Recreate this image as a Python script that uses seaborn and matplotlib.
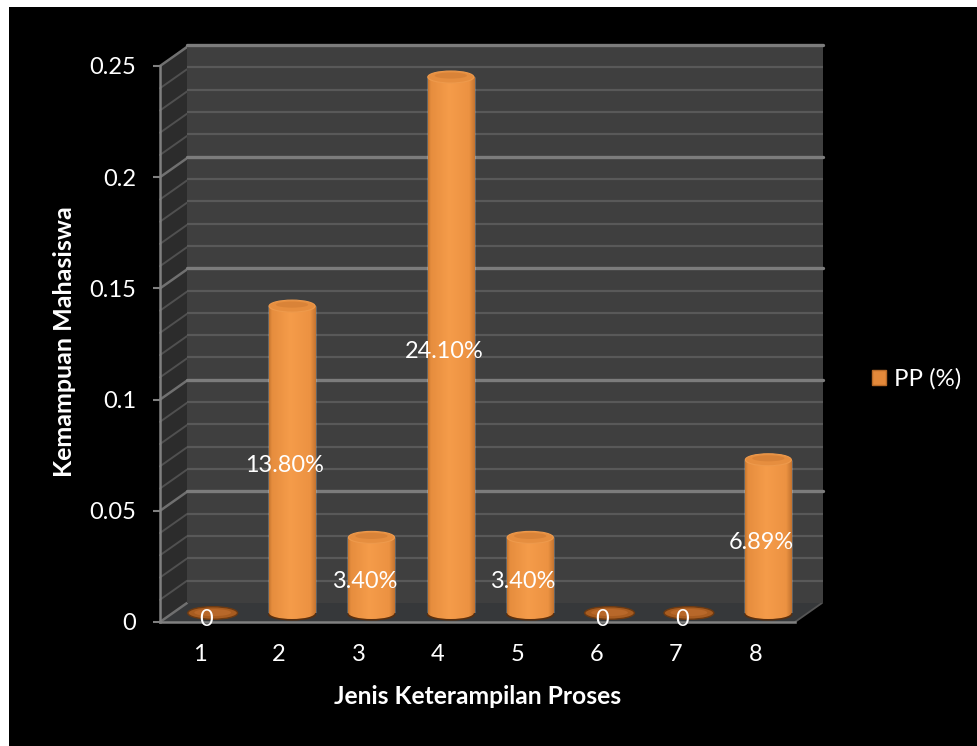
import numpy as np
import pandas as pd
import matplotlib
matplotlib.use("Agg")
import matplotlib.pyplot as plt
from matplotlib.patches import Polygon, Ellipse, Rectangle, Patch
from matplotlib.lines import Line2D
from matplotlib.colors import LinearSegmentedColormap
import seaborn as sns

categories = ["1", "2", "3", "4", "5", "6", "7", "8"]
values = [0, 0.138, 0.034, 0.241, 0.034, 0, 0, 0.0689]
value_labels = ["0", "13.80%", "3.40%", "24.10%", "3.40%", "0", "0", "6.89%"]
y_ticks = [0, 0.05, 0.1, 0.15, 0.2, 0.25]
y_tick_labels = ["0", "0.05", "0.1", "0.15", "0.2", "0.25"]
minor_ticks = [0.01, 0.02, 0.03, 0.04, 0.06, 0.07, 0.08, 0.09, 0.11, 0.12, 0.13, 0.14,
               0.16, 0.17, 0.18, 0.19, 0.21, 0.22, 0.23, 0.24]
series_name = "PP (%)"
x_title = "Jenis Keterampilan Proses"
y_title = "Kemampuan Mahasiswa"

W, H = 978, 746
sns.set_theme(style="dark")
plt.rcParams["font.family"] = ["Lato", "DejaVu Sans"]

fig = plt.figure(figsize=(W / 100, H / 100), dpi=100, facecolor="white")


def P(x, y):
    return (x / W, 1 - y / H)


def axes_px(x0, y0, x1, y1, **kw):
    return fig.add_axes([x0 / W, 1 - y1 / H, (x1 - x0) / W, (y1 - y0) / H], **kw)


fig.add_artist(Rectangle(P(9, H), (W - 9) / W, (H - 7) / H, transform=fig.transFigure,
                         fc="black", ec="none", zorder=-5))

FX0, FX1, FY0, FY1 = 160, 795, 66, 622   # front plane
DX, DY = 27, -19                          # depth offset

# Back wall
ax_back = axes_px(FX0 + DX, FY0 + DY - 2, FX1 + DX + 1, FY1 + DY, zorder=1)
ax_back.set_facecolor("#3f3f3f")
ax_back.set_xlim(0, 1)
ax_back.set_ylim(0, 0.25)
ax_back.set_xticks([])
ax_back.set_yticks([])
for s in ax_back.spines.values():
    s.set_visible(False)
for v in minor_ticks:
    ax_back.axhline(v, color="#595959", lw=1.6)
for v in y_ticks[1:]:
    ax_back.axhline(v, color="#7c7c7c", lw=2.4, clip_on=False)

# Side wall and floor
fig.add_artist(Polygon([P(FX0, FY0), P(FX0 + DX, FY0 + DY - 2), P(FX0 + DX, FY1 + DY), P(FX0, FY1)],
                       transform=fig.transFigure, fc="#2c2c2c", ec="none", zorder=0.5))
fig.add_artist(Polygon([P(FX0, FY1), P(FX0 + DX, FY1 + DY), P(FX1 + DX, FY1 + DY), P(FX1, FY1)],
                       transform=fig.transFigure, fc="#36383a", ec="none", zorder=0.5))
for v in y_ticks + minor_ticks:
    yy = FY1 - v / 0.25 * (FY1 - FY0)
    major = v in y_ticks
    fig.add_artist(Line2D([P(FX0, yy)[0], P(FX0 + DX, yy + DY)[0]],
                          [P(FX0, yy)[1], P(FX0 + DX, yy + DY)[1]],
                          transform=fig.transFigure, color="#707070" if major else "#505050",
                          lw=1.8 if major else 1.4, zorder=0.6))
fig.add_artist(Line2D([P(FX1, FY1)[0], P(FX1 + DX, FY1 + DY)[0]],
                      [P(FX1, FY1)[1], P(FX1 + DX, FY1 + DY)[1]],
                      transform=fig.transFigure, color="#555555", lw=1.3, zorder=0.6))

# Front plane: axes lines, ticks, labels
ax = axes_px(FX0, FY0, FX1, FY1, zorder=2)
ax.patch.set_alpha(0)
ax.set_xlim(-0.5, 7.5)
ax.set_ylim(0, 0.25)
ax.grid(False)
ax.set_xticks(range(len(categories)))
ax.set_xticklabels(categories)
ax.set_yticks(y_ticks)
ax.set_yticklabels(y_tick_labels)
ax.tick_params(axis="x", length=0, pad=16, labelsize=17, colors="white")
ax.tick_params(axis="y", length=5, width=1.5, left=True, color="#808080", pad=12, labelsize=17, labelcolor="white")
for side in ("top", "right"):
    ax.spines[side].set_visible(False)
for side in ("left", "bottom"):
    ax.spines[side].set_color("#808080")
    ax.spines[side].set_linewidth(1.8)
ax.set_xlabel(x_title, color="white", fontsize=17.7, fontweight="bold", va="center")
ax.set_ylabel(y_title, color="white", fontsize=18, fontweight="bold", va="center")
ax.xaxis.set_label_coords(0.5, -(697 - FY1) / (FY1 - FY0))
ax.yaxis.set_label_coords(-(FX0 - 65) / (FX1 - FX0), 0.505)

# Bars, mid-depth
ax_bar = axes_px(FX0 + 13, FY0 - 9, FX1 + 13, FY1 - 9, zorder=3)
df = pd.DataFrame({"Jenis": categories, "PP": values})
sns.barplot(data=df, x="Jenis", y="PP", color="#F0953F", width=0.58, saturation=1, ax=ax_bar)
ax_bar.set_xlim(-0.5, 7.5)
ax_bar.set_ylim(0, 0.25)
ax_bar.axis("off")

cmap = LinearSegmentedColormap.from_list(
    "cyl", [(0, "#C8782F"), (0.06, "#E68D3E"), (0.45, "#F59C4A"), (0.88, "#EC9242"), (1, "#C47430")])
grad = np.linspace(0, 1, 128)[None, :]
EH = 12 / (FY1 - FY0) * 0.25   # ellipse height, data units
for patch, val in zip(list(ax_bar.patches), values):
    x, w, h = patch.get_x(), patch.get_width(), patch.get_height()
    xc = x + w / 2
    if val == 0:
        patch.set_visible(False)
        ax_bar.add_patch(Ellipse((xc, 0), w * 1.08, EH * 1.05, fc="#A85C20", ec="#6d3a12", lw=1.0, clip_on=False, zorder=4))
        ax_bar.add_patch(Ellipse((xc, 0.0002), w * 0.8, EH * 0.6, fc="#B8682A", ec="none", clip_on=False, zorder=4.1))
        continue
    ax_bar.add_patch(Ellipse((xc, -0.0007), w * 1.04, EH, fc="#5a2f0e", ec="none", clip_on=False, zorder=3.5))
    extent = (x, x + w, -EH, h)
    im = ax_bar.imshow(grad, extent=extent, cmap=cmap, aspect="auto", zorder=4)
    im.set_clip_path(patch)
    bottom = Ellipse((xc, 0), w, EH, fc="none", ec="none", clip_on=False)
    ax_bar.add_patch(bottom)
    im2 = ax_bar.imshow(grad, extent=extent, cmap=cmap, aspect="auto", zorder=4)
    im2.set_clip_box(fig.bbox)
    im2.set_clip_path(bottom)
    ax_bar.add_patch(Ellipse((xc, h), w, EH, fc="#E68E3F", ec="#EE9A4C", lw=0.8, clip_on=False, zorder=5))
    ax_bar.add_patch(Ellipse((xc, h + EH * 0.12), w * 0.7, EH * 0.5, fc="#D98338", ec="none", clip_on=False, zorder=5.1))
ax_bar.set_xlim(-0.5, 7.5)
ax_bar.set_ylim(0, 0.25)

# Data labels
for i, (val, lab) in enumerate(zip(values, value_labels)):
    ax_bar.annotate(lab, (i, val / 2), xytext=(-7 * 0.72, -6 * 0.72), textcoords="offset points",
                    ha="center", va="center", color="white", fontsize=16.9, zorder=8, annotation_clip=False)

# Legend
handle = Patch(fc="#E4893A", ec="#B86A28", label=series_name)
fig.legend(handles=[handle], loc="center left", bbox_to_anchor=(872 / W, 1 - 379 / H), frameon=False,
           fontsize=17.3, labelcolor="white", handlelength=0.6, handleheight=0.62, handletextpad=0.3,
           borderpad=0, borderaxespad=0)

fig.savefig("out.png", dpi=100, facecolor=fig.get_facecolor())
